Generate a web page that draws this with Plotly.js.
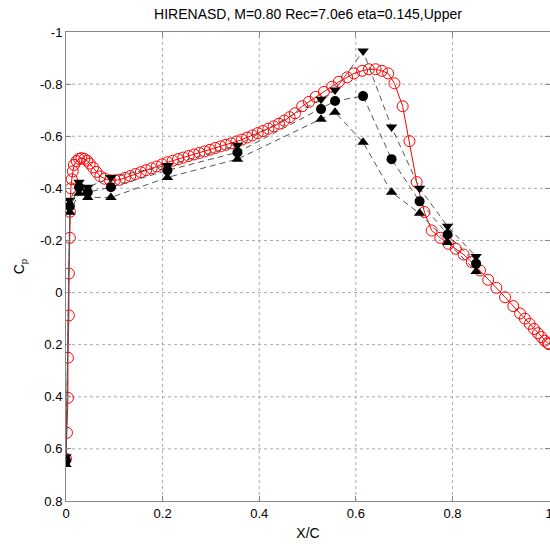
<!DOCTYPE html>
<html>
<head>
<meta charset="utf-8">
<script src="https://cdn.plot.ly/plotly-3.0.1.min.js"></script>
<style>html,body{margin:0;padding:0;background:#fff;overflow:hidden}#chart{width:550px;height:544px}</style>
</head>
<body>
<div id="chart"></div>
<script>
// CFD (red, open circles)
const cfdX = [0.000,0.002,0.004,0.004,0.006,0.006,0.008,0.008,0.010,0.012,0.014,0.0165,0.022,0.027,0.032,0.038,0.044,0.049,0.056,0.063,0.071,0.080,0.091,0.101,0.111,0.122,0.133,0.144,0.155,0.166,0.177,0.188,0.199,0.210,0.221,0.232,0.243,0.254,0.265,0.276,0.287,0.298,0.309,0.320,0.331,0.342,0.353,0.364,0.375,0.386,0.397,0.408,0.419,0.430,0.441,0.452,0.463,0.474,0.489,0.503,0.517,0.534,0.551,0.565,0.582,0.596,0.613,0.627,0.641,0.654,0.667,0.680,0.697,0.711,0.726,0.742,0.757,0.775,0.792,0.807,0.823,0.840,0.857,0.874,0.891,0.909,0.926,0.940,0.950,0.960,0.969,0.977,0.984,0.991,0.997,1.000];
const cfdCp = [0.638,0.538,0.404,0.250,0.088,-0.073,-0.210,-0.310,-0.400,-0.435,-0.465,-0.490,-0.505,-0.513,-0.516,-0.513,-0.506,-0.495,-0.480,-0.463,-0.446,-0.437,-0.431,-0.431,-0.433,-0.440,-0.447,-0.455,-0.462,-0.470,-0.477,-0.484,-0.492,-0.500,-0.506,-0.512,-0.518,-0.524,-0.530,-0.536,-0.542,-0.548,-0.555,-0.561,-0.567,-0.573,-0.580,-0.587,-0.595,-0.603,-0.612,-0.620,-0.629,-0.638,-0.648,-0.660,-0.673,-0.688,-0.715,-0.732,-0.751,-0.770,-0.790,-0.809,-0.826,-0.841,-0.851,-0.857,-0.857,-0.851,-0.841,-0.803,-0.715,-0.581,-0.424,-0.309,-0.238,-0.210,-0.187,-0.168,-0.146,-0.117,-0.085,-0.049,-0.018,0.018,0.052,0.080,0.100,0.120,0.140,0.156,0.171,0.185,0.194,0.198];

// Experiment stations (black)
const expX = [0.000,0.008,0.027,0.045,0.093,0.210,0.355,0.528,0.557,0.615,0.674,0.732,0.790,0.849];
const expDown = [0.630,-0.354,-0.423,-0.404,-0.442,-0.488,-0.565,-0.742,-0.777,-0.927,-0.635,-0.400,-0.254,-0.138];
const expMid  = [0.645,-0.331,-0.404,-0.385,-0.404,-0.469,-0.538,-0.704,-0.735,-0.754,-0.512,-0.350,-0.223,-0.111];
const expUp   = [0.660,-0.308,-0.381,-0.365,-0.365,-0.442,-0.512,-0.665,-0.692,-0.577,-0.385,-0.304,-0.192,-0.081];

const xTicks = [0,0.2,0.4,0.6,0.8,1];
const xTickText = ["0","0.2","0.4","0.6","0.8","1"];
const yTicks = [-1,-0.8,-0.6,-0.4,-0.2,0,0.2,0.4,0.6,0.8];
const yTickText = ["-1","-0.8","-0.6","-0.4","-0.2","0","0.2","0.4","0.6","0.8"];

const font = "Liberation Sans, Arial, Helvetica, sans-serif";

function expTrace(y, sym){
  return {x: expX, y: y, mode: 'lines+markers', type: 'scatter',
    line: {color: '#555', width: 1, dash: '6px,4px'},
    marker: {symbol: sym, color: '#000', size: 10, line: {width: 0}},
    hoverinfo: 'skip', showlegend: false};
}

const traces = [
  {x: cfdX, y: cfdCp, mode: 'lines+markers', type: 'scatter',
   line: {color: '#ff0000', width: 1},
   marker: {symbol: 'circle-open', color: '#ff0000', size: 11, line: {width: 1, color: '#ff0000'}},
   showlegend: false},
  expTrace(expDown, 'triangle-down'),
  expTrace(expMid, 'circle'),
  expTrace(expUp, 'triangle-up')
];

// dotted grid drawn from the tick arrays
const gridShapes = [];
xTicks.slice(1, -1).forEach(v => gridShapes.push({type: 'line', xref: 'x', yref: 'paper', x0: v, x1: v, y0: 0, y1: 1, layer: 'below', line: {color: '#aaa', width: 1, dash: 'dot'}}));
yTicks.slice(1, -1).forEach(v => gridShapes.push({type: 'line', xref: 'paper', yref: 'y', x0: 0, x1: 1, y0: v, y1: v, layer: 'below', line: {color: '#aaa', width: 1, dash: 'dot'}}));

const axisCommon = {
  showline: true, linecolor: '#888', linewidth: 1, mirror: 'ticks',
  ticks: 'inside', ticklen: 5, tickcolor: '#888',
  showgrid: false,
  zeroline: false, tickfont: {family: font, size: 13, color: '#000'},
  ticklabeloverflow: 'allow'
};

const layout = {
  width: 550, height: 544,
  margin: {l: 66, r: 0, t: 32, b: 43},
  paper_bgcolor: '#fff', plot_bgcolor: '#fff',
  title: {text: 'HIRENASD, M=0.80 Rec=7.0e6 eta=0.145,Upper', font: {family: font, size: 14, color: '#000'}, x: 0.5, xref: 'paper', y: 0.975, yanchor: 'middle'},
  xaxis: Object.assign({}, axisCommon, {range: [0, 1.002], tickmode: 'array', tickvals: xTicks, ticktext: xTickText,
    title: {text: 'X/C', font: {family: font, size: 14, color: '#000'}, standoff: 8}}),
  yaxis: Object.assign({}, axisCommon, {range: [0.8, -1], tickmode: 'array', tickvals: yTicks, ticktext: yTickText,
    title: {text: 'C<sub>p</sub>', font: {family: font, size: 14, color: '#000'}, standoff: 12}}),
  shapes: gridShapes,
  showlegend: false
};

Plotly.newPlot('chart', traces, layout, {displayModeBar: false, staticPlot: true});
</script>
</body>
</html>
